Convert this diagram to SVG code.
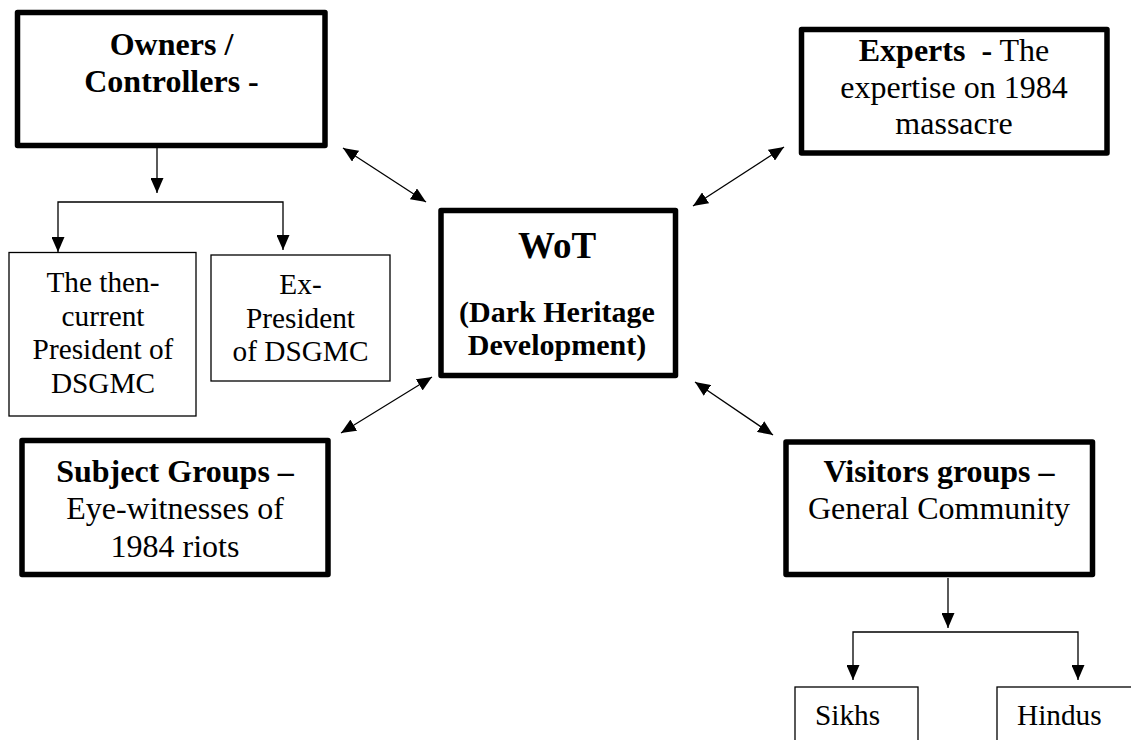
<svg xmlns="http://www.w3.org/2000/svg" width="1131" height="740" viewBox="0 0 1131 740">
  <style>
    .thick { fill: #fff; stroke: #000; stroke-width: 5.5; stroke-linejoin: round; }
    .thin { fill: #fff; stroke: #000; stroke-width: 1.3; }
    .t { font-family: "Liberation Serif", "Times New Roman", serif; fill: #000; text-anchor: middle; }
    .t.left { text-anchor: start; }
    .s32 { font-size: 32px; }
    .s29 { font-size: 29.3px; }
    .b { font-weight: bold; }
    .link { fill: none; stroke: #000; stroke-width: 1.3; }
  </style>
  <defs>
    <marker id="head" viewBox="0 0 15 13" refX="15" refY="6.5" markerWidth="15" markerHeight="13" markerUnits="userSpaceOnUse" orient="auto-start-reverse">
      <path d="M0,0 L15,6.5 L0,13 z" fill="#000"/>
    </marker>
  </defs>
  <rect width="1131" height="740" fill="#fff"/>

  <g id="connectors">
    <!-- Owners fan-out -->
    <line class="link" x1="157" y1="148" x2="157" y2="193" marker-end="url(#head)"/>
    <path class="link" d="M58,252 V202 H283 V250" marker-start="url(#head)" marker-end="url(#head)"/>
    <!-- Visitors fan-out -->
    <line class="link" x1="948" y1="578" x2="948" y2="628" marker-end="url(#head)"/>
    <path class="link" d="M853,680 V632 H1078 V680" marker-start="url(#head)" marker-end="url(#head)"/>
    <!-- Two-way links with the centre -->
    <line class="link" x1="343" y1="148" x2="426" y2="202" marker-start="url(#head)" marker-end="url(#head)"/>
    <line class="link" x1="784" y1="147" x2="693" y2="206" marker-start="url(#head)" marker-end="url(#head)"/>
    <line class="link" x1="432" y1="377" x2="341" y2="433" marker-start="url(#head)" marker-end="url(#head)"/>
    <line class="link" x1="695" y1="382" x2="773" y2="435" marker-start="url(#head)" marker-end="url(#head)"/>
  </g>

  <g id="owners">
    <rect class="thick" x="17.5" y="12.5" width="307.5" height="133"/>
    <text class="t s32 b" x="171.5" y="55">Owners /</text>
    <text class="t s32 b" x="171.5" y="92">Controllers -</text>
  </g>

  <g id="then-current">
    <rect class="thin" x="9" y="252.5" width="187" height="163.5"/>
    <text class="t s29" x="103" y="292">The then-</text>
    <text class="t s29" x="103" y="325.5">current</text>
    <text class="t s29" x="103" y="359">President of</text>
    <text class="t s29" x="103" y="393">DSGMC</text>
  </g>

  <g id="ex-president">
    <rect class="thin" x="211" y="255" width="179" height="126"/>
    <text class="t s29" x="300.5" y="294">Ex-</text>
    <text class="t s29" x="300.5" y="327.5">President</text>
    <text class="t s29" x="300.5" y="361">of DSGMC</text>
  </g>

  <g id="experts">
    <rect class="thick" x="801.5" y="29.5" width="305.5" height="123.5"/>
    <text class="t s32" x="954" y="61" xml:space="preserve"><tspan class="b">Experts  -</tspan> The</text>
    <text class="t s32" x="954" y="98">expertise on 1984</text>
    <text class="t s32" x="954" y="134">massacre</text>
  </g>

  <g id="wot">
    <rect class="thick" x="441" y="210.5" width="234.5" height="165"/>
    <text class="t b" x="557" y="258" font-size="37px">WoT</text>
    <text class="t b" x="557" y="322" font-size="30px">(Dark Heritage</text>
    <text class="t b" x="557" y="355" font-size="30px">Development)</text>
  </g>

  <g id="subject-groups">
    <rect class="thick" x="22" y="440.5" width="306" height="134"/>
    <text class="t s32 b" x="175" y="482">Subject Groups –</text>
    <text class="t s32" x="175" y="519">Eye-witnesses of</text>
    <text class="t s32" x="175" y="557">1984 riots</text>
  </g>

  <g id="visitors-groups">
    <rect class="thick" x="786" y="442" width="306.5" height="132.5"/>
    <text class="t s32 b" x="939" y="482">Visitors groups –</text>
    <text class="t s32" x="939" y="519">General Community</text>
  </g>

  <g id="sikhs">
    <rect class="thin" x="795" y="687" width="123" height="70"/>
    <text class="t left s29" x="815" y="725">Sikhs</text>
  </g>

  <g id="hindus">
    <rect class="thin" x="997" y="687" width="150" height="70"/>
    <text class="t left s29" x="1017" y="725">Hindus</text>
  </g>
</svg>
